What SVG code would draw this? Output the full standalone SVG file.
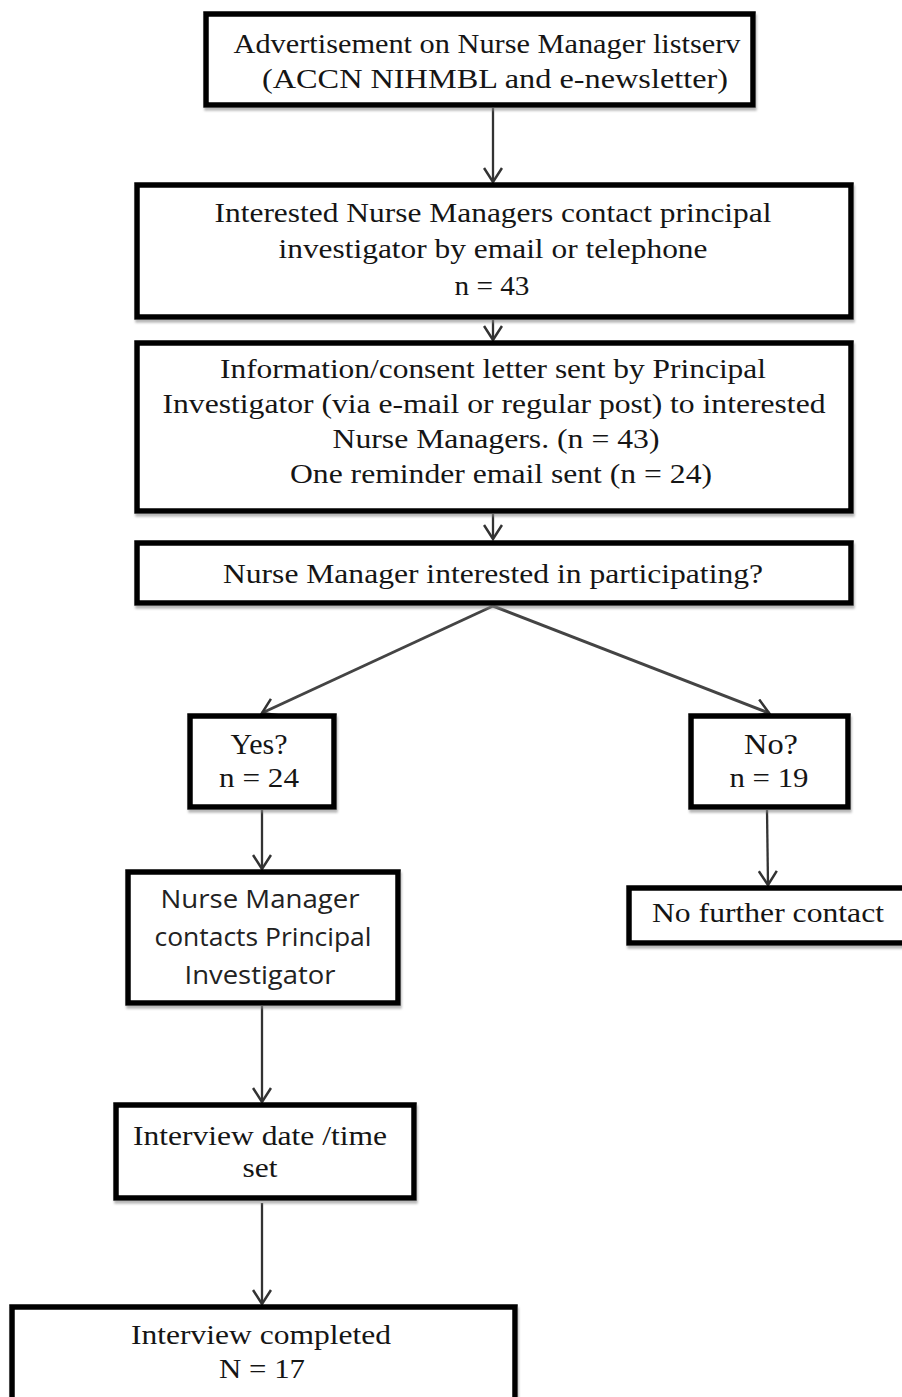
<svg xmlns="http://www.w3.org/2000/svg" width="902" height="1397" viewBox="0 0 902 1397">
<defs>
<marker id="arr" viewBox="0 0 18 20" markerUnits="userSpaceOnUse" markerWidth="18" markerHeight="20" refX="16" refY="10" orient="auto">
<path d="M2,1 L16,10 L2,19" fill="none" stroke="#333" stroke-width="2.5"/>
</marker>
<filter id="sh" x="-5%" y="-5%" width="110%" height="120%">
<feDropShadow dx="1" dy="3" stdDeviation="1" flood-color="#888" flood-opacity="0.6"/>
</filter>
</defs>
<style>
rect.b{fill:#fff;stroke:#000;stroke-width:5.5;filter:url(#sh)}
text{font-family:"Liberation Serif","Times New Roman",serif;font-size:28px;fill:#151515;text-anchor:middle}
text.y{font-size:30px}
text.s{font-family:"Open Sans","Liberation Sans",sans-serif;font-size:26px;fill:#222}
.c line{stroke:#333;stroke-width:2.3;marker-end:url(#arr)}
.c line.d{stroke:#444;stroke-width:3}
</style>
<rect width="902" height="1397" fill="#fff"/>
<g class="c" id="connectors">
<line x1="493" y1="108" x2="493" y2="182"/>
<line x1="493" y1="320" x2="493" y2="340"/>
<line x1="493" y1="514" x2="493" y2="539"/>
<line class="d" x1="493" y1="606" x2="262" y2="713"/>
<line class="d" x1="493" y1="606" x2="769" y2="713"/>
<line x1="262" y1="810" x2="262" y2="869"/>
<line x1="767" y1="810" x2="768" y2="885"/>
<line x1="262" y1="1006" x2="262" y2="1102"/>
<line x1="262" y1="1203" x2="262" y2="1304"/>
</g>
<g id="n1">
<rect class="b" x="206" y="14" width="547" height="91"/>
<text x="487" y="53" textLength="507" lengthAdjust="spacingAndGlyphs">Advertisement on Nurse Manager listserv</text>
<text x="495" y="88" textLength="466" lengthAdjust="spacingAndGlyphs">(ACCN  NIHMBL and e-newsletter)</text>
</g>
<g id="n2">
<rect class="b" x="137" y="185" width="714" height="132"/>
<text x="493" y="222" textLength="557" lengthAdjust="spacingAndGlyphs">Interested Nurse Managers contact principal</text>
<text x="493" y="258" textLength="429" lengthAdjust="spacingAndGlyphs">investigator by email  or telephone</text>
<text x="492" y="295" textLength="75" lengthAdjust="spacingAndGlyphs">n = 43</text>
</g>
<g id="n3">
<rect class="b" x="137" y="343" width="714" height="168"/>
<text x="493" y="378" textLength="546" lengthAdjust="spacingAndGlyphs">Information/consent letter sent by Principal</text>
<text x="494" y="413" textLength="663" lengthAdjust="spacingAndGlyphs">Investigator (via e-mail  or regular  post) to interested</text>
<text x="496" y="448" textLength="327" lengthAdjust="spacingAndGlyphs">Nurse Managers.  (n = 43)</text>
<text x="501" y="483" textLength="422" lengthAdjust="spacingAndGlyphs">One reminder email  sent (n = 24)</text>
</g>
<g id="n4">
<rect class="b" x="137" y="543" width="714" height="60"/>
<text x="493" y="583" textLength="540" lengthAdjust="spacingAndGlyphs">Nurse Manager interested in participating?</text>
</g>
<g id="yes">
<rect class="b" x="190" y="716" width="144" height="91"/>
<text class="y" x="259" y="754" textLength="57" lengthAdjust="spacingAndGlyphs">Yes?</text>
<text x="259" y="787" textLength="80" lengthAdjust="spacingAndGlyphs">n = 24</text>
</g>
<g id="no">
<rect class="b" x="691" y="716" width="157" height="91"/>
<text class="y" x="771" y="754" textLength="54" lengthAdjust="spacingAndGlyphs">No?</text>
<text x="769" y="787" textLength="79" lengthAdjust="spacingAndGlyphs">n = 19</text>
</g>
<g id="nm">
<rect class="b" x="128" y="872" width="270" height="131"/>
<text class="s" x="260" y="908" textLength="199" lengthAdjust="spacingAndGlyphs">Nurse Manager</text>
<text class="s" x="263" y="946" textLength="217" lengthAdjust="spacingAndGlyphs">contacts Principal</text>
<text class="s" x="260" y="984" textLength="151" lengthAdjust="spacingAndGlyphs">Investigator</text>
</g>
<g id="nfc">
<rect class="b" x="629" y="888" width="285" height="55"/>
<text x="768" y="922" textLength="232" lengthAdjust="spacingAndGlyphs">No further contact</text>
</g>
<g id="date">
<rect class="b" x="116" y="1105" width="298" height="93"/>
<text x="260" y="1145" textLength="254" lengthAdjust="spacingAndGlyphs">Interview date /time</text>
<text x="260" y="1177" textLength="35" lengthAdjust="spacingAndGlyphs">set</text>
</g>
<g id="done">
<rect class="b" x="12" y="1307" width="503" height="110"/>
<text x="261" y="1344" textLength="260" lengthAdjust="spacingAndGlyphs">Interview completed</text>
<text x="262" y="1378" textLength="86" lengthAdjust="spacingAndGlyphs">N = 17</text>
</g>
</svg>
